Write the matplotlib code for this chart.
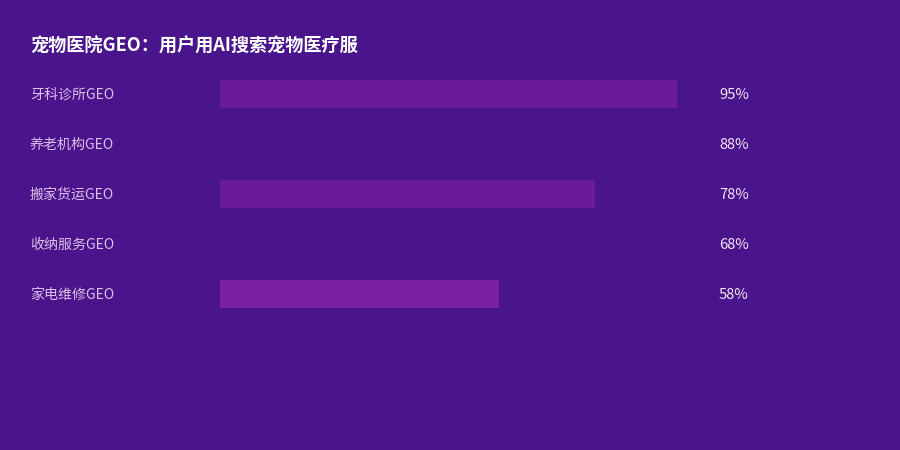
import matplotlib
matplotlib.use("Agg")
import matplotlib.pyplot as plt

plt.rcParams['font.family'] = ['Noto Sans CJK SC', 'DejaVu Sans']

title = "宠物医院GEO：用户用AI搜索宠物医疗服"
categories = ["牙科诊所GEO", "养老机构GEO", "搬家货运GEO", "收纳服务GEO", "家电维修GEO"]
values = [95, 88, 78, 68, 58]
bar_colors = ["#6A1B9A", "#4A148C", "#6A1B9A", "#4A148C", "#7B1FA2"]

BG = "#4A148C"
W, H = 900, 450
fig = plt.figure(figsize=(9, 4.5), dpi=100, facecolor=BG)

# axes in pixel coordinates: x 220..701, y 69..319
ax = fig.add_axes([220 / W, 1 - 319 / H, 481 / W, 250 / H])
ax.set_facecolor(BG)
ax.set_xlim(0, 100)
ax.set_ylim(len(categories) - 0.5, -0.5)
ax.axis("off")

ys = list(range(len(categories)))
ax.barh(ys, values, height=0.56, color=bar_colors, linewidth=0)

for y, cat, v in zip(ys, categories, values):
    yf = 1 - (95 + 50 * y) / H
    fig.text(30 / W, yf, cat, ha="left", va="center", color="#E1BEE7", fontsize=10.1)
    fig.text(719 / W, yf, f"{v}%", ha="left", va="center", color="#F3E5F5", fontsize=10.6)

fig.text(30 / W, 1 - 46 / H, title, ha="left", va="center", color="white",
         fontsize=13.1, fontweight="bold")

fig.savefig("out.png", dpi=100, facecolor=BG)
